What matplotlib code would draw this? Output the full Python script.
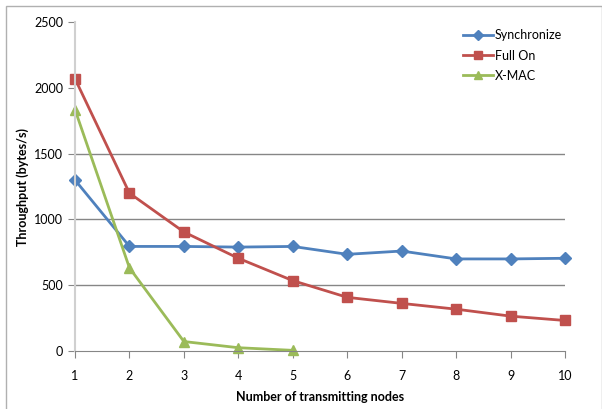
import matplotlib
matplotlib.use('Agg')
import matplotlib.pyplot as plt
from matplotlib.patches import Rectangle

nodes = [1, 2, 3, 4, 5, 6, 7, 8, 9, 10]
sync = [1300, 795, 795, 790, 795, 735, 760, 700, 700, 705]
full_on = [2070, 1200, 905, 705, 535, 408, 362, 318, 265, 232]
xmac_nodes = [1, 2, 3, 4, 5]
xmac = [1835, 632, 72, 25, 5]

plt.rcParams['font.family'] = ['Lato', 'DejaVu Sans']

fig = plt.figure(figsize=(6.02, 4.09), dpi=100)
ax = fig.add_axes([0.1246, 0.1418, 0.814, 0.804])

ax.plot(nodes, sync, color='#4F81BD', lw=2, marker='D', ms=6, label='Synchronize', clip_on=False)
ax.plot(nodes, full_on, color='#C0504D', lw=2, marker='s', ms=7, label='Full On', clip_on=False)
ax.plot(xmac_nodes, xmac, color='#9BBB59', lw=2, marker='^', ms=7, label='X-MAC', clip_on=False)

ax.set_xlim(1, 10)
ax.set_ylim(0, 2500)
ax.set_xticks(nodes)
ax.set_yticks([0, 500, 1000, 1500, 2000, 2500])
for v in [500, 1000, 1500]:
    ax.axhline(v, color='#868686', lw=1, zorder=0)

for s in ['top', 'right']:
    ax.spines[s].set_visible(False)
ax.spines['left'].set_color('#D0D0D0')
ax.spines['left'].set_linewidth(1.5)
ax.spines['bottom'].set_color('#868686')
ax.tick_params(axis='x', colors='#868686', length=5, labelcolor='black', labelsize=9, pad=9)
ax.tick_params(axis='y', colors='#868686', length=5, labelcolor='black', labelsize=9)
ax.set_xlabel('Number of transmitting nodes', fontsize=9, fontweight='bold', labelpad=6)
ax.set_ylabel('Throughput (bytes/s)', fontsize=9, fontweight='bold')

ax.legend(loc='upper left', bbox_to_anchor=(0.769, 0.928), bbox_transform=fig.transFigure,
          frameon=False, fontsize=9, borderaxespad=0, borderpad=0, markerscale=0.8,
          handlelength=2.4, handletextpad=0.15, labelspacing=0.65)

fig.patches.append(Rectangle((0.01, -0.01), 0.99, 0.995, transform=fig.transFigure,
                             fill=False, edgecolor='#B0B0B0', lw=1))

fig.savefig('out.png', dpi=100)
